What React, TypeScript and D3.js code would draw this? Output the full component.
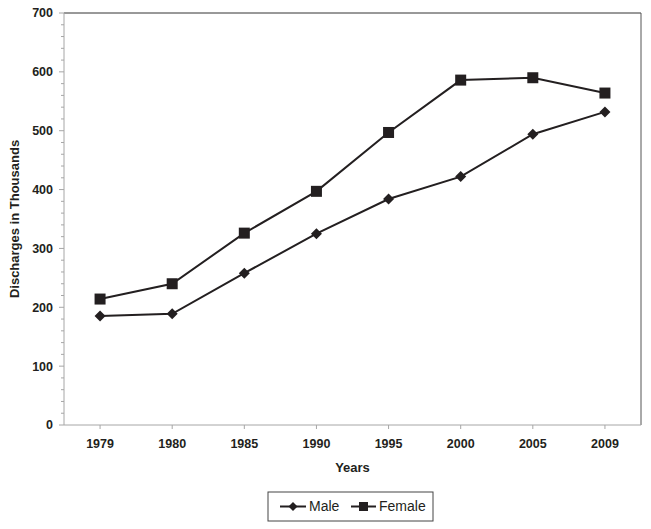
import React from "react";
import * as d3 from "d3";

const years = ["1979", "1980", "1985", "1990", "1995", "2000", "2005", "2009"];
const male = [185, 189, 258, 325, 384, 422, 494, 532];
const female = [214, 240, 326, 397, 497, 586, 590, 564];
const yTicks = [0, 100, 200, 300, 400, 500, 600, 700];

const width = 651;
const height = 529;
const margin = { top: 13, right: 10, bottom: 104, left: 64 };
const ink = "#231f20";
const axisGray = "#a6a6a6";
const font = "'Liberation Sans', Arial, sans-serif";

const App = () => {
  const x = d3
    .scalePoint()
    .domain(years)
    .range([margin.left, width - margin.right])
    .padding(0.5);

  const y = d3
    .scaleLinear()
    .domain([0, 700])
    .range([height - margin.bottom, margin.top]);

  const line = d3
    .line<number>()
    .x((d, i) => x(years[i]) as number)
    .y((d) => y(d));

  const minor = d3.range(0, 701, 20).filter((v) => v % 100 !== 0);
  const x0 = margin.left;
  const x1 = width - margin.right;
  const y0 = y(0);
  const yTop = y(700);

  const diamond = (cx: number, cy: number, r: number) =>
    `M${cx},${cy - r}L${cx + r},${cy}L${cx},${cy + r}L${cx - r},${cy}Z`;

  return (
    <svg
      width={width}
      height={height}
      style={{ position: "absolute", left: 0, top: 0, background: "#fff" }}
      fontFamily={font}
    >
      <rect width={width} height={height} fill="#fff" />

      {/* frame */}
      <line x1={x0} x2={x1} y1={yTop} y2={yTop} stroke="#333" strokeWidth={1} />
      <line x1={x1} x2={x1} y1={yTop} y2={y0} stroke="#555" strokeWidth={1} />
      <line x1={x0} x2={x0} y1={yTop} y2={y0} stroke={axisGray} strokeWidth={1} />
      <line x1={x0} x2={x1} y1={y0} y2={y0} stroke={axisGray} strokeWidth={1} />

      {/* y ticks */}
      {minor.map((v) => (
        <line key={"m" + v} x1={x0 - 3} x2={x0} y1={y(v)} y2={y(v)} stroke={axisGray} />
      ))}
      {yTicks.map((v) => (
        <g key={v}>
          <line x1={x0 - 5} x2={x0} y1={y(v)} y2={y(v)} stroke={axisGray} />
          <text
            x={53}
            y={y(v)}
            dy="0.35em"
            textAnchor="end"
            fontSize={12.5}
            fontWeight="bold"
            fill={ink}
          >
            {v}
          </text>
        </g>
      ))}

      {/* x ticks */}
      {years.map((yr) => (
        <g key={yr}>
          <line x1={x(yr)} x2={x(yr)} y1={y0} y2={y0 + 4} stroke={axisGray} />
          <text
            x={x(yr)}
            y={y0 + 23}
            textAnchor="middle"
            fontSize={12.5}
            fontWeight="bold"
            fill={ink}
          >
            {yr}
          </text>
        </g>
      ))}

      {/* axis titles */}
      <text
        x={(x0 + x1) / 2}
        y={472}
        textAnchor="middle"
        fontSize={13}
        fontWeight="bold"
        fill={ink}
      >
        Years
      </text>
      <text
        transform={`translate(19,${(yTop + y0) / 2}) rotate(-90)`}
        textAnchor="middle"
        fontSize={13}
        fontWeight="bold"
        fill={ink}
      >
        Discharges in Thousands
      </text>

      {/* series */}
      <path d={line(female) || ""} fill="none" stroke={ink} strokeWidth={2} />
      <path d={line(male) || ""} fill="none" stroke={ink} strokeWidth={2} />
      {female.map((v, i) => (
        <rect
          key={"f" + i}
          x={(x(years[i]) as number) - 5.5}
          y={y(v) - 5.5}
          width={11}
          height={11}
          fill={ink}
        />
      ))}
      {male.map((v, i) => (
        <path key={"d" + i} d={diamond(x(years[i]) as number, y(v), 5.5)} fill={ink} />
      ))}

      {/* legend */}
      <g transform="translate(268,492)">
        <rect x={0} y={0} width={165} height={29} fill="#fff" stroke="#444" strokeWidth={1} />
        <line x1={12} x2={38} y1={14.5} y2={14.5} stroke={ink} strokeWidth={2} />
        <path d={diamond(25, 14.5, 4.5)} fill={ink} />
        <text x={41} y={14.5} dy="0.35em" fontSize={14} fill={ink}>
          Male
        </text>
        <line x1={83} x2={108} y1={14.5} y2={14.5} stroke={ink} strokeWidth={2} />
        <rect x={91} y={10} width={9} height={9} fill={ink} />
        <text x={111} y={14.5} dy="0.35em" fontSize={14} fill={ink}>
          Female
        </text>
      </g>
    </svg>
  );
};

export default App;
